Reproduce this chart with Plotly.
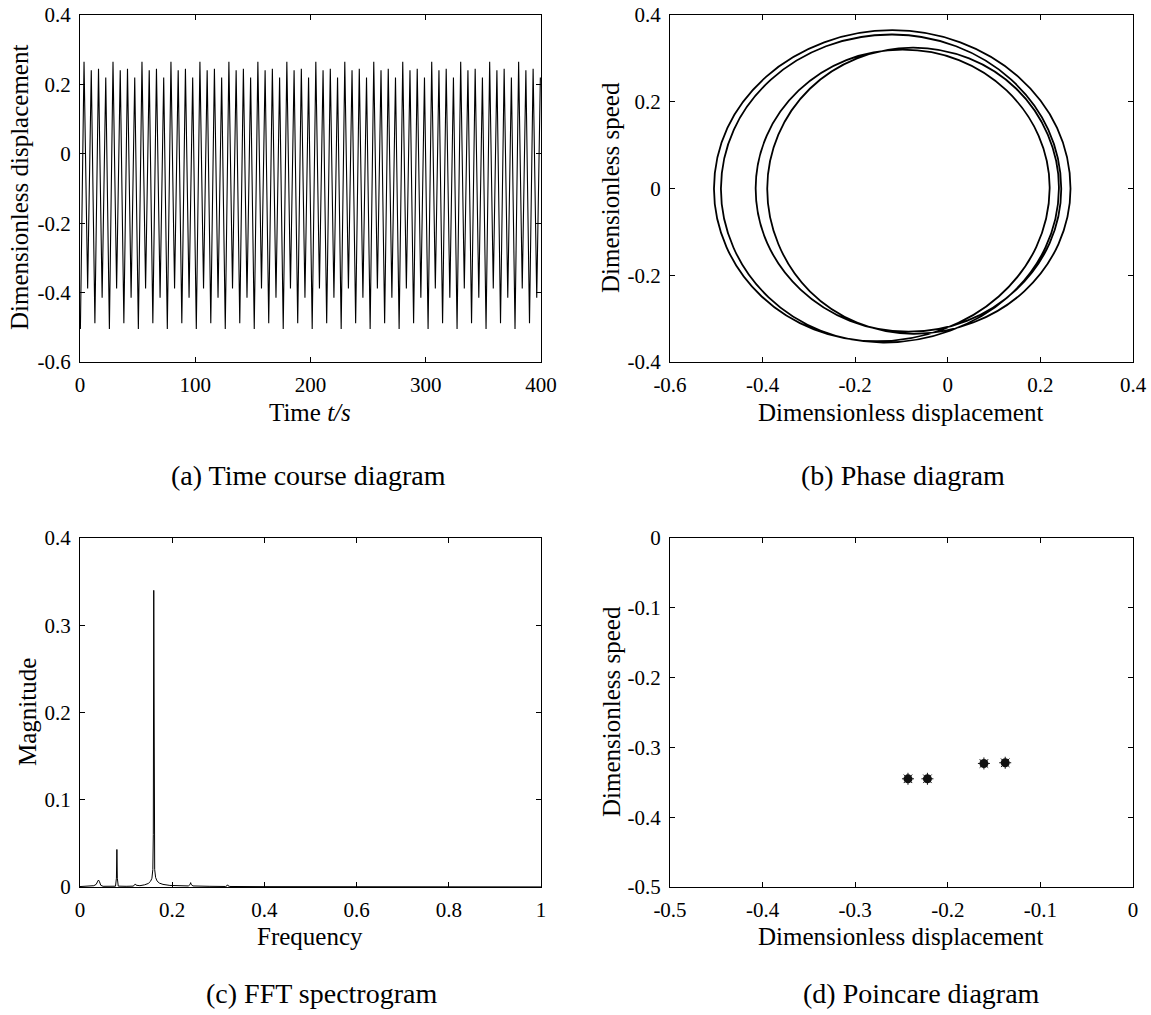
import plotly.graph_objects as go

W, H = 1151, 1015
FONT = "Liberation Serif, Times New Roman, serif"

# ---------------- (a) Time course: successive extremes of each cycle ----------------
cycle_period = 6.285          # s, read from peak spacing
first_trough_time = 0.35      # s
trough_values = [
    -0.505, -0.388, -0.488, -0.415, -0.505, -0.388, -0.488, -0.415,
    -0.505, -0.388, -0.488, -0.415, -0.505, -0.388, -0.488, -0.415,
    -0.505, -0.388, -0.488, -0.415, -0.505, -0.388, -0.488, -0.415,
    -0.505, -0.388, -0.488, -0.415, -0.505, -0.388, -0.488, -0.415,
    -0.505, -0.388, -0.488, -0.415, -0.505, -0.388, -0.488, -0.415,
    -0.505, -0.388, -0.488, -0.415, -0.505, -0.388, -0.488, -0.415,
    -0.505, -0.388, -0.488, -0.415, -0.505, -0.388, -0.488, -0.415,
    -0.505, -0.388, -0.488, -0.415, -0.505, -0.388, -0.488, -0.415,
]
peak_values = [
    0.265, 0.241, 0.245, 0.220, 0.265, 0.241, 0.245, 0.220,
    0.265, 0.241, 0.245, 0.220, 0.265, 0.241, 0.245, 0.220,
    0.265, 0.241, 0.245, 0.220, 0.265, 0.241, 0.245, 0.220,
    0.265, 0.241, 0.245, 0.220, 0.265, 0.241, 0.245, 0.220,
    0.265, 0.241, 0.245, 0.220, 0.265, 0.241, 0.245, 0.220,
    0.265, 0.241, 0.245, 0.220, 0.265, 0.241, 0.245, 0.220,
    0.265, 0.241, 0.245, 0.220, 0.265, 0.241, 0.245, 0.220,
    0.265, 0.241, 0.245, 0.220, 0.265, 0.241, 0.245, 0.220,
]
time_ticks = [0, 100, 200, 300, 400]
disp_ticks = [-0.6, -0.4, -0.2, 0, 0.2, 0.4]
disp_tick_text = ["-0.6", "-0.4", "-0.2", "0", "0.2", "0.4"]

# ---------------- (b) Phase diagram: points read along the closed orbit ----------------
phase_disp = [
    -0.505, -0.476, -0.392, -0.267, -0.120, 0.027, 0.152, 0.236, 0.265,
    0.239, 0.165, 0.055, -0.075, -0.196, -0.298, -0.366, -0.390,
    -0.366, -0.298, -0.196, -0.075, 0.046, 0.148, 0.216, 0.240,
    0.211, 0.129, 0.005, -0.140, -0.274, -0.387, -0.463, -0.490,
    -0.462, -0.382, -0.263, -0.120, 0.018, 0.137, 0.217, 0.245,
    0.220, 0.148, 0.041, -0.085, -0.211, -0.318, -0.390, -0.415,
    -0.391, -0.322, -0.219, -0.098, 0.024, 0.127, 0.196, 0.220,
    0.191, 0.110, -0.011, -0.155, -0.289, -0.402, -0.478, -0.505,
]
phase_speed = [
    0.000, 0.140, 0.258, 0.337, 0.365, 0.337, 0.258, 0.140, 0.000,
    -0.128, -0.237, -0.309, -0.335, -0.309, -0.237, -0.128, 0.000,
    0.124, 0.230, 0.300, 0.325, 0.300, 0.230, 0.124, 0.000,
    -0.136, -0.251, -0.328, -0.355, -0.328, -0.251, -0.136, 0.000,
    0.136, 0.251, 0.328, 0.355, 0.328, 0.251, 0.136, 0.000,
    -0.126, -0.233, -0.305, -0.330, -0.305, -0.233, -0.126, 0.000,
    0.122, 0.226, 0.296, 0.320, 0.296, 0.226, 0.122, 0.000,
    -0.135, -0.249, -0.325, -0.352, -0.325, -0.249, -0.135, 0.000,
]
phase_x_ticks = [-0.6, -0.4, -0.2, 0, 0.2, 0.4]
phase_x_text = ["-0.6", "-0.4", "-0.2", "0", "0.2", "0.4"]
phase_y_ticks = [-0.4, -0.2, 0, 0.2, 0.4]
phase_y_text = ["-0.4", "-0.2", "0", "0.2", "0.4"]

# ---------------- (c) FFT spectrogram ----------------
fft_freq = [
    0.000, 0.015, 0.030, 0.035, 0.038, 0.040, 0.042, 0.045, 0.050, 0.065,
    0.077, 0.079, 0.080, 0.081, 0.083, 0.100, 0.115, 0.118, 0.120, 0.122,
    0.130, 0.140, 0.148, 0.153, 0.156, 0.158, 0.159, 0.160, 0.161, 0.162,
    0.164, 0.167, 0.172, 0.180, 0.195, 0.215, 0.235, 0.239, 0.240, 0.241,
    0.245, 0.280, 0.316, 0.319, 0.320, 0.321, 0.325, 0.400, 0.600, 0.800,
    1.000,
]
fft_mag = [
    0.0005, 0.0008, 0.0015, 0.003, 0.006, 0.008, 0.0065, 0.002, 0.0008, 0.0007,
    0.0009, 0.010, 0.043, 0.010, 0.001, 0.0008, 0.001, 0.002, 0.0035, 0.002,
    0.0015, 0.0025, 0.004, 0.0065, 0.010, 0.020, 0.060, 0.340, 0.060, 0.020,
    0.011, 0.007, 0.0045, 0.003, 0.0018, 0.0012, 0.0012, 0.003, 0.005, 0.003,
    0.0012, 0.0008, 0.0006, 0.0015, 0.0025, 0.0015, 0.0006, 0.0004, 0.0003, 0.0002,
    0.0001,
]
freq_ticks = [0, 0.2, 0.4, 0.6, 0.8, 1]
freq_text = ["0", "0.2", "0.4", "0.6", "0.8", "1"]
mag_ticks = [0, 0.1, 0.2, 0.3, 0.4]
mag_text = ["0", "0.1", "0.2", "0.3", "0.4"]

# ---------------- (d) Poincare section ----------------
poincare_disp = [-0.243, -0.222, -0.161, -0.138]
poincare_speed = [-0.345, -0.345, -0.323, -0.322]
pc_x_ticks = [-0.5, -0.4, -0.3, -0.2, -0.1, 0]
pc_x_text = ["-0.5", "-0.4", "-0.3", "-0.2", "-0.1", "0"]
pc_y_ticks = [-0.5, -0.4, -0.3, -0.2, -0.1, 0]
pc_y_text = ["-0.5", "-0.4", "-0.3", "-0.2", "-0.1", "0"]

# ---------------- build time course polyline from extremes ----------------
t_series, d_series = [], []
for k in range(len(trough_values)):
    t_tr = first_trough_time + k * cycle_period
    t_series += [t_tr, t_tr + cycle_period / 2]
    d_series += [trough_values[k], peak_values[k]]

# ---------------- layout helpers (window pixels -> paper fractions) ----------------
def px(x):
    return x / W

def py(y):
    return 1 - y / H

def xdom(l, r):
    return [px(l), px(r)]

def ydom(top, bottom):
    return [py(bottom), py(top)]

LEFT_A, RIGHT_A = 80, 541
LEFT_B, RIGHT_B = 670, 1133
TOP_1, BOT_1 = 15, 362
TOP_2, BOT_2 = 538, 887

def axis(domain, rng, tickvals, ticktext, anchor):
    return dict(
        domain=domain, range=rng, tickvals=tickvals, ticktext=ticktext, anchor=anchor,
        showline=True, linecolor="black", linewidth=1, mirror="ticks",
        ticks="inside", ticklen=5, tickwidth=1, tickcolor="black",
        showgrid=False, zeroline=False, automargin=False,
        tickfont=dict(family=FONT, size=21, color="black"),
        ticklabelstandoff=4, ticklabeloverflow="allow",
    )

fig = go.Figure()
fig.add_trace(go.Scatter(x=t_series, y=d_series, mode="lines",
                         line=dict(color="black", width=1.1), xaxis="x", yaxis="y",
                         showlegend=False))
fig.add_trace(go.Scatter(x=phase_disp, y=phase_speed, mode="lines",
                         line=dict(color="black", width=1.8, shape="spline", smoothing=1.0),
                         xaxis="x2", yaxis="y2", showlegend=False))
fig.add_trace(go.Scatter(x=fft_freq, y=fft_mag, mode="lines",
                         line=dict(color="black", width=1), xaxis="x3", yaxis="y3",
                         showlegend=False))
fig.add_trace(go.Scatter(x=poincare_disp, y=poincare_speed, mode="markers",
                         marker=dict(symbol="circle", size=9, color="#111111",
                                     line=dict(width=0)),
                         xaxis="x4", yaxis="y4", showlegend=False))
fig.add_trace(go.Scatter(x=poincare_disp, y=poincare_speed, mode="markers",
                         marker=dict(symbol="asterisk-open", size=10, color="#111111",
                                     line=dict(color="#111111", width=1)),
                         xaxis="x4", yaxis="y4", showlegend=False))

fig.update_layout(
    template="none",
    width=W, height=H, margin=dict(l=0, r=0, t=0, b=0, autoexpand=False),
    paper_bgcolor="white", plot_bgcolor="white", showlegend=False,
    font=dict(family=FONT, color="black"),
    xaxis=axis(xdom(LEFT_A, RIGHT_A), [0, 400], time_ticks, [str(v) for v in time_ticks], "y"),
    yaxis=axis(ydom(TOP_1, BOT_1), [-0.6, 0.4], disp_ticks, disp_tick_text, "x"),
    xaxis2=axis(xdom(LEFT_B, RIGHT_B), [-0.6, 0.4], phase_x_ticks, phase_x_text, "y2"),
    yaxis2=axis(ydom(TOP_1, BOT_1), [-0.4, 0.4], phase_y_ticks, phase_y_text, "x2"),
    xaxis3=axis(xdom(LEFT_A, RIGHT_A), [0, 1], freq_ticks, freq_text, "y3"),
    yaxis3=axis(ydom(TOP_2, BOT_2), [0, 0.4], mag_ticks, mag_text, "x3"),
    xaxis4=axis(xdom(LEFT_B, RIGHT_B), [-0.5, 0], pc_x_ticks, pc_x_text, "y4"),
    yaxis4=axis(ydom(TOP_2, BOT_2), [-0.5, 0], pc_y_ticks, pc_y_text, "x4"),
)

def label(text, x, y, size=25, angle=0):
    fig.add_annotation(text=text, x=px(x), y=py(y), xref="paper", yref="paper",
                       xanchor="center", yanchor="middle", showarrow=False,
                       textangle=angle, font=dict(family=FONT, size=size, color="black"))

# axis titles
label("Time <i>t/s</i>", 310, 412)
label("Dimensionless displacement", 901, 412)
label("Frequency", 310, 936)
label("Dimensionless displacement", 901, 936)
label("Dimensionless displacement", 20, 188, angle=-90)
label("Dimensionless speed", 611, 188, angle=-90)
label("Magnitude", 27, 712, angle=-90)
label("Dimensionless speed", 611, 712, angle=-90)
# captions
label("(a) Time course diagram", 308, 475, size=28)
label("(b) Phase diagram", 903, 475, size=28)
label("(c) FFT spectrogram", 321, 993, size=28)
label("(d) Poincare diagram", 921, 993, size=28)

# place the figure flush with the window corner (no default page margin / scrollbars)
fig.write_html(
    "out.html",
    config={"displayModeBar": False},
    post_script="document.body.style.margin='0';document.body.style.overflow='hidden';",
)
